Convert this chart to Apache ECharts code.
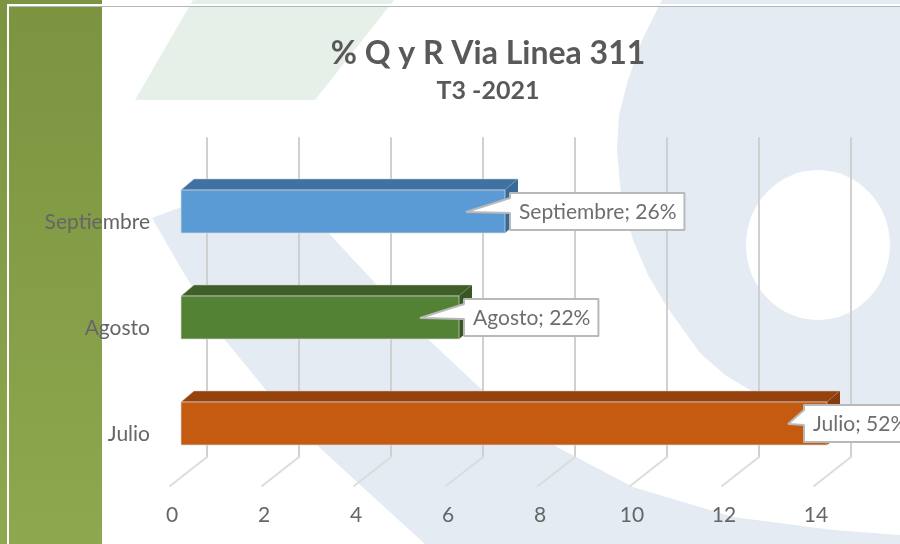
<!DOCTYPE html>
<html>
<head>
<meta charset="utf-8">
<style>html,body{margin:0;padding:0;background:#fff}#c{width:900px;height:544px}</style>
<script src="https://cdn.jsdelivr.net/npm/echarts@6/dist/echarts.min.js"></script>
</head>
<body>
<div id="c"></div>
<script>
const categories = ['Julio', 'Agosto', 'Septiembre'];
const values = [14, 6, 7];
const percents = [52, 22, 26];
const xTicks = [0, 2, 4, 6, 8, 10, 12, 14];
const titleText = '% Q y R Via Linea 311';
const subtitleText = 'T3 -2021';

const barFront = ['#c55a11', '#548235', '#5b9bd5'];
const barTop = ['#96420c', '#3f5f27', '#3f72a3'];
const barSide = ['#843c0c', '#385723', '#376a99'];
const wash = '#e5ebf3';
const leaf = '#e6f0e8';

const chart = echarts.init(document.getElementById('c'), null, { renderer: 'canvas' });

const DX = 13, DY = 11, BAR_H = 43, BACK = 26, GRID_TOP = 138, GRID_BOTTOM = 457, FLOOR_BOTTOM = 486, LABEL_MAX_LEFT = 804;
const labelFont = '21px Lato';
const measure = document.createElement('canvas').getContext('2d');

function renderGrid(params, api) {
  const x = api.coord([api.value(0), 0])[0];
  const bx = x + BACK;
  return {
    type: 'group',
    children: [
      { type: 'line', shape: { x1: bx, y1: GRID_TOP, x2: bx, y2: GRID_BOTTOM },
        style: { stroke: '#d0d0d0', lineWidth: 2, lineCap: 'round' } },
      { type: 'line', shape: { x1: bx, y1: GRID_BOTTOM, x2: bx - 37, y2: FLOOR_BOTTOM },
        style: { stroke: '#dcdcdc', lineWidth: 2, lineCap: 'round' } }
    ]
  };
}

function renderBar(params, api) {
  const i = params.dataIndex;
  const c = api.coord([api.value(0), api.value(1)]);
  const x0 = api.coord([0, api.value(1)])[0];
  const x1 = c[0] + 2;
  const t = c[1] - BAR_H / 2, b = c[1] + BAR_H / 2;
  return {
    type: 'group',
    children: [
      { type: 'polygon', shape: { points: [[x0, t], [x0 + DX, t - DY], [x1 + DX, t - DY], [x1, t]] },
        style: { fill: barTop[i], stroke: '#c9c9c9', lineWidth: 0.5 } },
      { type: 'polygon', shape: { points: [[x1, t], [x1 + DX, t - DY], [x1 + DX, b - DY], [x1, b]] },
        style: { fill: barSide[i] } },
      { type: 'rect', shape: { x: x0, y: t, width: x1 - x0, height: b - t },
        style: { fill: barFront[i], stroke: '#d9d9d9', lineWidth: 0.7 } }
    ]
  };
}

function renderCallout(params, api) {
  const i = params.dataIndex;
  const c = api.coord([api.value(0), api.value(1)]);
  const end = c[0] + 2;
  const text = categories[i] + '; ' + percents[i] + '%';
  measure.font = labelFont;
  const w = measure.measureText(text).width;
  const left = Math.min(end + 5, LABEL_MAX_LEFT);
  const right = left + w + 17;
  const top = c[1] - 18.5, bot = c[1] + 18.5;
  const tip = [end - 39, c[1] + 0.5];
  return {
    type: 'group',
    children: [
      { type: 'polygon',
        shape: { points: [[left, top], [right, top], [right, bot], [left, bot], [left, top + 20], tip, [left, top + 5]] },
        style: { fill: '#ffffff', stroke: '#b9b9b9', lineWidth: 2, lineJoin: 'bevel' } },
      { type: 'text', x: left + 9, y: c[1] + 0.5,
        style: { text: text, font: labelFont, fill: '#6e6e6e', verticalAlign: 'middle', align: 'left' } }
    ]
  };
}

const background = [
  { type: 'rect', z: -5, shape: { x: 0, y: 0, width: 900, height: 544 }, style: { fill: '#ffffff' } },
  { type: 'polygon', z: -4, shape: { points: [[135, 100], [193, 0], [394, 0], [315, 100]] }, style: { fill: leaf } },
  { type: 'polygon', z: -4, shape: { points: [
      [662, 0], [642, 40], [628, 80], [619, 115], [617, 150], [621, 195], [633, 240], [648, 275], [667, 307],
      [700, 353], [725, 375], [750, 390], [790, 410], [840, 425], [900, 436], [900, 0]] }, style: { fill: wash } },
  { type: 'ellipse', z: -3, shape: { cx: 818, cy: 245, rx: 72, ry: 75 }, style: { fill: '#ffffff' } },
  { type: 'polygon', z: -4, shape: { points: [
      [152, 218], [182, 270], [225, 340], [270, 395], [319, 447], [369, 493], [425, 544], [900, 544], [900, 535],
      [833, 530], [733, 517], [633, 487], [557, 447], [479, 387], [429, 340], [375, 283], [335, 240], [300, 200], [200, 200]] },
    style: { fill: wash } },
  { type: 'rect', z: -2, shape: { x: 0, y: 0, width: 102, height: 544 },
    style: { fill: { type: 'linear', x: 0, y: 0, x2: 0, y2: 1,
      colorStops: [{ offset: 0, color: '#7c933f' }, { offset: 1, color: '#8da84f' }] } } },
  { type: 'rect', z: -1, shape: { x: 8, y: 4, width: 892, height: 2 }, style: { fill: '#ffffff' } },
  { type: 'rect', z: -1, shape: { x: 7, y: 4, width: 2, height: 540 }, style: { fill: '#ffffff' } },
  { type: 'rect', z: -1, shape: { x: 9, y: 6, width: 891, height: 1 }, style: { fill: '#b5b5b5' } }
];

chart.setOption({
  animation: false,
  backgroundColor: 'transparent',
  title: {
    text: titleText,
    subtext: subtitleText,
    left: 483,
    top: 33,
    textAlign: 'center',
    itemGap: 8,
    textStyle: { fontFamily: 'Lato', fontSize: 32, fontWeight: 'bold', color: '#595959' },
    subtextStyle: { fontFamily: 'Lato', fontSize: 25, fontWeight: 'bold', color: '#595959' }
  },
  graphic: { elements: background },
  grid: { left: 181, width: 644, top: 158.5, height: 318 },
  xAxis: {
    type: 'value', min: 0, max: 14, interval: 2,
    axisLine: { show: false }, axisTick: { show: false }, splitLine: { show: false },
    axisLabel: { margin: 28, padding: [0, 18, 0, 0], fontFamily: 'Lato', fontSize: 21, color: '#666666' }
  },
  yAxis: {
    type: 'category', data: categories,
    axisLine: { show: false }, axisTick: { show: false }, splitLine: { show: false },
    axisLabel: { margin: 31, verticalAlign: 'top', fontFamily: 'Lato', fontSize: 21, color: '#666666' }
  },
  series: [
    { type: 'custom', z: 1, silent: true, clip: false, coordinateSystem: 'cartesian2d',
      renderItem: renderGrid, encode: { x: 0 }, data: xTicks.map(v => [v]) },
    { type: 'custom', z: 2, silent: true, clip: false, coordinateSystem: 'cartesian2d',
      renderItem: renderBar, encode: { x: 0, y: 1 }, data: values.map((v, i) => [v, i]) },
    { type: 'custom', z: 3, silent: true, clip: false, coordinateSystem: 'cartesian2d',
      renderItem: renderCallout, encode: { x: 0, y: 1 }, data: values.map((v, i) => [v, i]) }
  ]
});
</script>
</body>
</html>
